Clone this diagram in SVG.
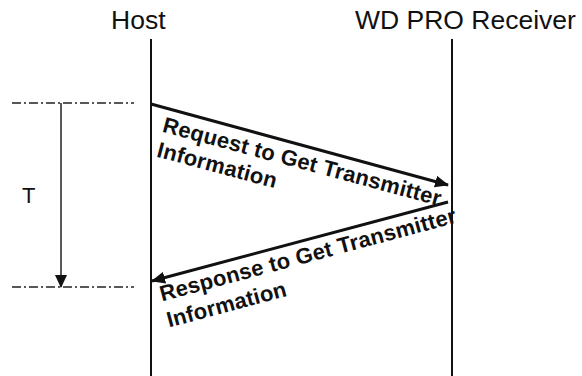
<svg xmlns="http://www.w3.org/2000/svg" width="582" height="376" viewBox="0 0 582 376">
  <style>
    .title { font-family: "Liberation Sans", Arial, sans-serif; font-size: 26.5px; fill: #111; }
    .lbl { font-family: "Liberation Sans", Arial, sans-serif; font-size: 22px; font-weight: bold; fill: #111; letter-spacing: 0.2px; }
    .tlbl { font-family: "Liberation Sans", Arial, sans-serif; font-size: 22px; fill: #111; }
    .life { stroke: #111; stroke-width: 2; fill: none; }
    .msg { stroke: #111; stroke-width: 3; fill: none; }
    .guide { stroke: #222; stroke-width: 1.3; stroke-dasharray: 9 3 2 3; fill: none; }
    .span { stroke: #222; stroke-width: 1.5; fill: none; }
  </style>
  <defs>
    <marker id="msgHead" viewBox="0 0 14 12" refX="13" refY="6" markerWidth="14" markerHeight="12" markerUnits="userSpaceOnUse" orient="auto">
      <path d="M0,0 L14,6 L0,12 Z" fill="#111"/>
    </marker>
    <marker id="spanHead" viewBox="0 0 13 12" refX="12" refY="6" markerWidth="13" markerHeight="12" markerUnits="userSpaceOnUse" orient="auto">
      <path d="M0,0 L13,6 L0,12 Z" fill="#111"/>
    </marker>
  </defs>

  <!-- participants -->
  <g id="host">
    <text class="title" x="111" y="29">Host</text>
    <line class="life" x1="151" y1="39" x2="151" y2="376"/>
  </g>
  <g id="receiver">
    <text class="title" x="355" y="29">WD PRO Receiver</text>
    <line class="life" x1="452" y1="39" x2="452" y2="376"/>
  </g>

  <!-- timing interval T -->
  <g id="interval">
    <line class="guide" x1="12" y1="103" x2="134" y2="103"/>
    <line class="guide" x1="12" y1="287" x2="134" y2="287"/>
    <line class="span" x1="61" y1="103" x2="61" y2="287" marker-end="url(#spanHead)"/>
    <text class="tlbl" x="22" y="203">T</text>
  </g>

  <!-- messages -->
  <g id="connectors">
    <line class="msg" x1="151" y1="104" x2="448" y2="185" marker-end="url(#msgHead)"/>
    <line class="msg" x1="448" y1="202" x2="152" y2="281" marker-end="url(#msgHead)"/>
  </g>

  <g id="request-label" transform="translate(161.5 131.5) rotate(15)">
    <text class="lbl" x="0" y="0">Request to Get Transmitter</text>
    <text class="lbl" x="1" y="25.5">Information</text>
  </g>
  <g id="response-label" transform="translate(162 301.5) rotate(-15)">
    <text class="lbl" x="0" y="0">Response to Get Transmitter</text>
    <text class="lbl" x="0" y="27">Information</text>
  </g>
</svg>
